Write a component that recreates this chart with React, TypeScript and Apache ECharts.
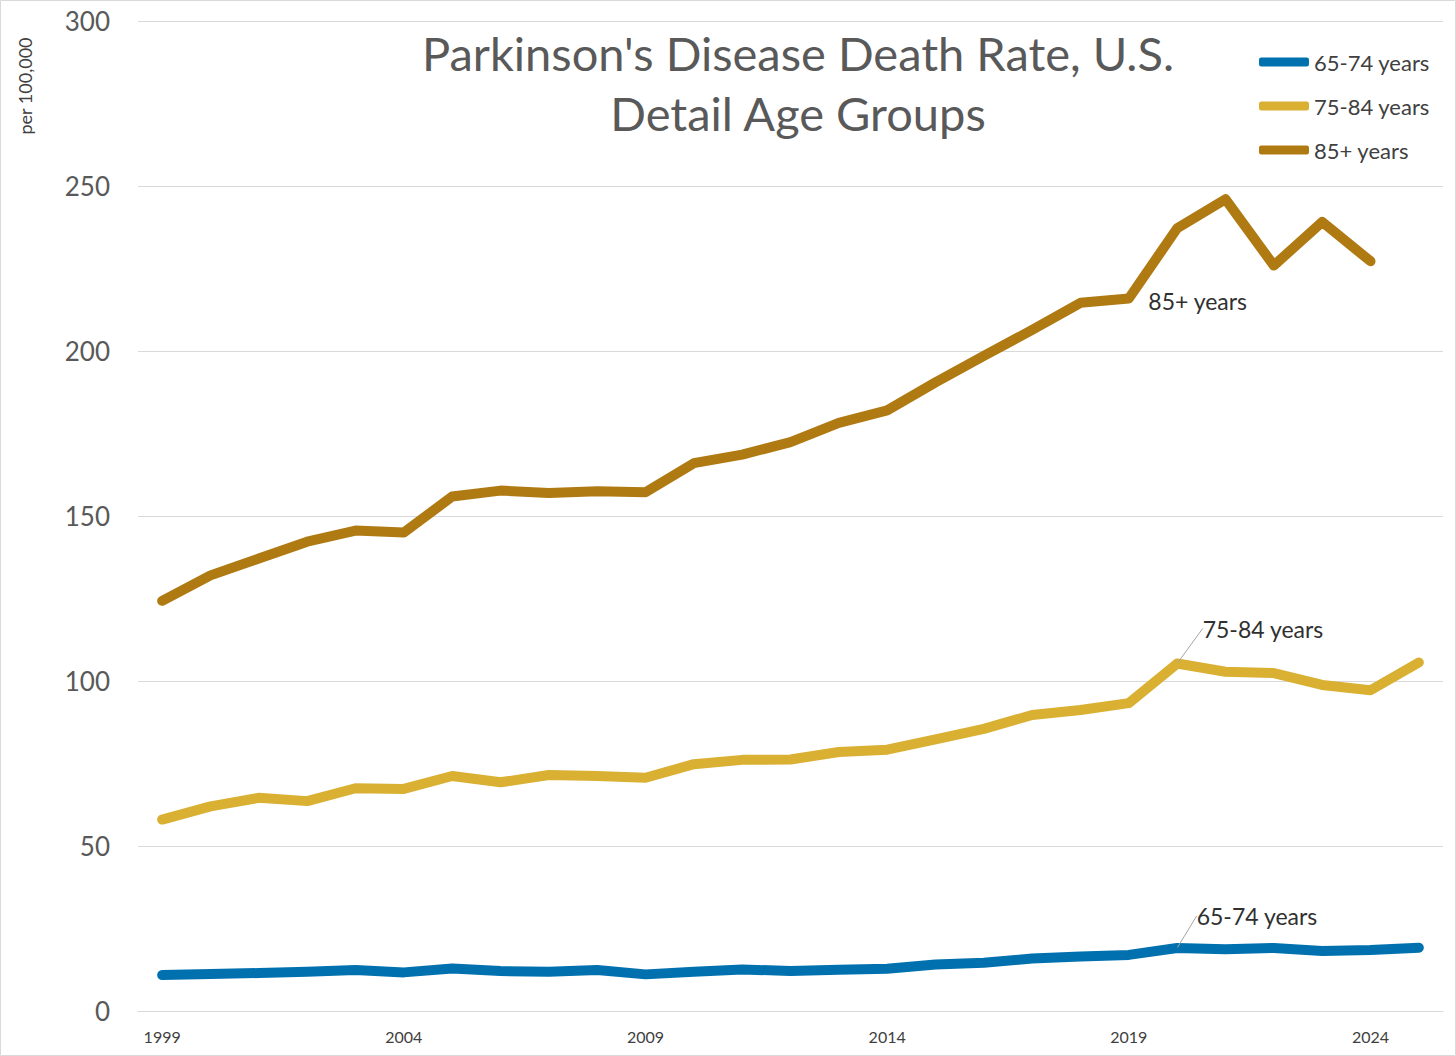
import React, { useEffect, useRef } from "react";
import * as echarts from "echarts";

const years = [
  "1999", "2000", "2001", "2002", "2003", "2004", "2005", "2006", "2007",
  "2008", "2009", "2010", "2011", "2012", "2013", "2014", "2015", "2016",
  "2017", "2018", "2019", "2020", "2021", "2022", "2023", "2024", "2025",
];

const age65to74 = [
  10.9, 11.2, 11.5, 11.9, 12.4, 11.7, 12.9, 12.1, 11.9, 12.4, 11.1, 11.9, 12.6,
  12.1, 12.5, 12.8, 14.1, 14.6, 15.9, 16.5, 17.0, 19.1, 18.7, 19.1, 18.2, 18.5, 19.2,
];

const age75to84 = [
  58.0, 62.0, 64.6, 63.6, 67.5, 67.3, 71.2, 69.3, 71.5, 71.2, 70.7, 74.8, 76.1,
  76.2, 78.5, 79.2, 82.3, 85.5, 89.7, 91.2, 93.3, 105.3, 102.8, 102.4, 98.8, 97.2, 105.6,
];

const age85plus = [
  124.3, 132.0, 137.1, 142.2, 145.6, 145.0, 155.9, 157.7, 157.0, 157.5, 157.2,
  166.0, 168.6, 172.4, 178.2, 182.0, 190.5, 198.5, 206.4, 214.6, 215.9, 237.2,
  246.0, 225.9, 239.1, 227.2, null,
];

const seriesNames = ["65-74 years", "75-84 years", "85+ years"];
const seriesColors = ["#0071AE", "#D9B032", "#B07A13"];
const labelYears = ["2020", "2020", "2019"];
const yTicks = [0, 50, 100, 150, 200, 250, 300];
const titleText = "Parkinson's Disease Death Rate, U.S.\nDetail Age Groups";
const yAxisTitle = "per 100,000";

const FONT = 'Lato, "Open Sans", "Noto Sans", sans-serif';

export default function App() {
  const ref = useRef<HTMLDivElement>(null);

  useEffect(() => {
    if (!ref.current) return;
    const chart = echarts.init(ref.current, null, { renderer: "svg" });

    const allData = [age65to74, age75to84, age85plus];
    const layouts = [
      { dx: 14, dy: -32, line: true },
      { dx: 20, dy: -35, line: true },
      { dx: 14, dy: 2, line: false },
    ];

    const series = allData.map((vals, si) => {
      const labelIdx = years.indexOf(labelYears[si]);
      const lay = layouts[si];
      return {
        name: seriesNames[si],
        type: "line",
        symbol: "none",
        showSymbol: true,
        showAllSymbol: true,
        z: 2 + si,
        color: seriesColors[si],
        lineStyle: {
          color: seriesColors[si],
          width: 10,
          cap: "round",
          join: "round",
        },
        itemStyle: { color: seriesColors[si] },
        labelLayout: (params: any) => {
          const out: any = { dx: lay.dx, dy: lay.dy };
          if (lay.line && params.rect && params.labelRect) {
            const ax = params.rect.x + params.rect.width / 2;
            const ay = params.rect.y + params.rect.height / 2;
            const lr = params.labelRect;
            const ex = lr.x + lay.dx - 3;
            const ey = lr.y + lay.dy + lr.height / 2;
            out.labelLinePoints = [
              [ax, ay - 6],
              [ax + 6, ey],
              [ex, ey],
            ];
          }
          return out;
        },
        labelLine: {
          show: lay.line,
          lineStyle: { color: "#a6a6a6", width: 1 },
        },
        data: vals.map((v, i) =>
          i === labelIdx
            ? {
                value: v,
                symbol: "circle",
                symbolSize: 1,
                label: {
                  show: true,
                  formatter: seriesNames[si],
                  position: "right",
                  distance: 5,
                  fontSize: 23,
                  color: "#303030",
                  fontFamily: FONT,
                },
              }
            : v
        ),
      };
    });

    const option = {
      animation: false,
      backgroundColor: "#ffffff",
      textStyle: { fontFamily: FONT },
      grid: {
        left: 138,
        right: 13,
        top: 21,
        bottom: 45,
        containLabel: false,
        outerBoundsMode: "none",
      },
      legend: {
        data: seriesNames,
        orient: "vertical",
        left: 1254,
        top: 43,
        itemWidth: 50,
        itemHeight: 9,
        itemGap: 16,
        icon: "roundRect",
        textStyle: {
          fontSize: 22,
          color: "#404040",
          fontFamily: FONT,
          lineHeight: 28,
        },
      },
      xAxis: {
        type: "category",
        data: years,
        boundaryGap: true,
        axisLine: { show: true, lineStyle: { color: "#d9d9d9", width: 1 } },
        axisTick: { show: false },
        axisLabel: {
          interval: 4,
          fontSize: 16,
          color: "#404040",
          margin: 17,
          fontFamily: FONT,
        },
        splitLine: { show: false },
      },
      yAxis: {
        type: "value",
        min: yTicks[0],
        max: yTicks[yTicks.length - 1],
        interval: yTicks[1] - yTicks[0],
        axisLine: { show: false },
        axisTick: { show: false },
        axisLabel: {
          fontSize: 26,
          color: "#595959",
          margin: 28,
          fontFamily: FONT,
        },
        splitLine: { lineStyle: { color: "#d9d9d9", width: 1 } },
      },
      graphic: [
        {
          type: "rect",
          silent: true,
          z: -10,
          shape: { x: 0.5, y: 0.5, width: 1455, height: 1055 },
          style: { fill: "none", stroke: "#d9d9d9", lineWidth: 1 },
        },
        {
          type: "text",
          x: 798,
          y: 23,
          style: {
            text: titleText,
            align: "center",
            verticalAlign: "top",
            fontSize: 47,
            lineHeight: 60,
            fill: "#595959",
            fontFamily: FONT,
          },
        },
        {
          type: "text",
          x: 25,
          y: 86,
          rotation: Math.PI / 2,
          style: {
            text: yAxisTitle,
            align: "center",
            verticalAlign: "middle",
            fontSize: 18,
            fill: "#404040",
            fontFamily: FONT,
          },
        },
      ],
      series,
    };

    chart.setOption(option);
    // second pass so the custom guide-line points apply to the existing guide lines
    chart.setOption(option);

    return () => chart.dispose();
  }, []);

  return (
    <div
      ref={ref}
      style={{ position: "absolute", left: 0, top: 0, width: 1456, height: 1056 }}
    />
  );
}
